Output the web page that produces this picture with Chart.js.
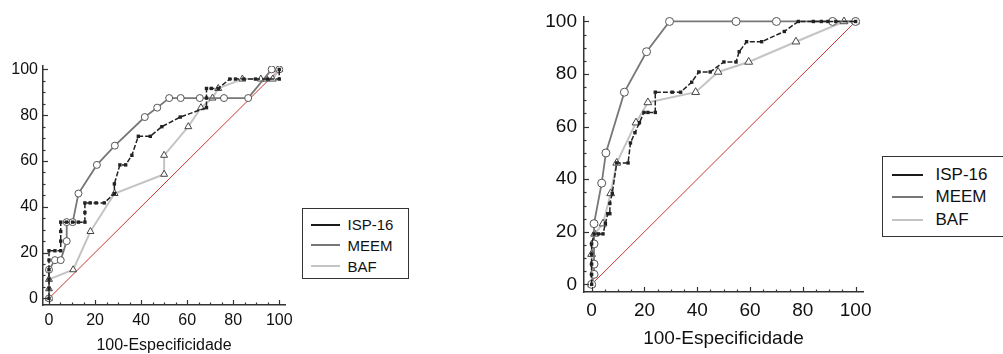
<!DOCTYPE html>
<html>
<head>
<meta charset="utf-8">
<script src="https://cdn.jsdelivr.net/npm/chart.js@4.4.1/dist/chart.umd.min.js"></script>
<style>
  body { margin: 0; background: #fff; width: 1003px; height: 354px; overflow: hidden; position: relative; font-family: "Liberation Sans", Arial, sans-serif; }
  canvas { position: absolute; top: 0; }
  .legend { position: absolute; border: 1.5px solid #333; background: #fff; box-sizing: border-box; color: #111; }
  .row { position: absolute; left: 0; display: flex; align-items: center; white-space: nowrap; }
  .swatch { display: inline-block; height: 2px; }
</style>
</head>
<body>
<canvas id="leftChart" width="300" height="354" style="left:0px"></canvas>
<canvas id="rightChart" width="360" height="354" style="left:520px"></canvas>

<div class="legend" id="leftLegend" style="left:302px; top:208px; width:107px; height:71px; font-size:15px;"></div>
<div class="legend" id="rightLegend" style="left:882px; top:156px; width:125px; height:81px; font-size:17px;"></div>

<script>
// ---- data ----
const seriesNames = ['ISP-16', 'MEEM', 'BAF'];
const tickValues = [0, 20, 40, 60, 80, 100];
const axisTitle = '100-Especificidade';
const diagX = [0, 100];
const diagY = [0, 100];

// left plot
const leftIspX = [0, 0, 0, 0, 0, 0, 2.6, 5.1, 5.1, 5.1, 5.1, 7.7, 10.3, 12.8, 15.6, 15.6, 15.6, 17.9, 20.5, 24.0, 28.4, 28.4, 30.8, 33.3, 36.0, 38.8, 44.0, 49.0, 57.0, 68.4, 68.4, 68.4, 70.5, 73.5, 78.5, 81.0, 84.6, 89.7, 94.9, 100, 100];
const leftIspY = [0, 4.2, 8.3, 12.5, 16.7, 20.8, 20.8, 20.8, 25.0, 29.2, 33.3, 33.3, 33.3, 33.3, 33.3, 37.5, 41.7, 41.7, 41.7, 41.7, 45.8, 50.0, 58.3, 58.3, 62.5, 70.8, 70.8, 75.0, 79.2, 83.3, 87.5, 91.7, 91.7, 91.7, 95.8, 95.8, 95.8, 95.8, 95.8, 95.8, 100];
const leftMeemX = [0, 0, 2.6, 5.1, 7.7, 7.7, 10.3, 12.8, 20.8, 28.6, 41.6, 47.0, 52.2, 57.2, 65.5, 76.0, 86.5, 96.7, 100];
const leftMeemY = [0, 12.5, 16.7, 16.7, 25.0, 33.3, 33.3, 45.8, 58.3, 66.7, 79.2, 83.3, 87.5, 87.5, 87.5, 87.5, 87.5, 100, 100];
const leftBafX = [0, 0, 0, 10.5, 18.0, 28.5, 50.0, 50.0, 60.5, 66.0, 71.0, 73.5, 84.0, 92.0, 94.5, 97.2, 100];
const leftBafY = [0, 4.2, 8.3, 12.5, 29.2, 45.8, 54.2, 62.5, 75.0, 83.3, 87.5, 91.7, 95.8, 95.8, 95.8, 95.8, 100];

// right plot
const rightIspX = [0, 0, 0, 0, 0, 0.9, 2.6, 4.3, 5.2, 6.1, 6.9, 6.9, 7.8, 9.5, 13.8, 14.7, 16.4, 18.1, 19.8, 21.3, 24.1, 24.1, 30.5, 33.7, 37.9, 40.6, 44.9, 50.1, 54.7, 55.9, 58.7, 64.4, 73.0, 78.3, 84.0, 87.0, 89.5, 92.5, 100];
const rightIspY = [0, 3.8, 7.7, 11.5, 15.4, 19.2, 19.2, 19.2, 23.1, 26.9, 26.9, 30.8, 34.6, 46.2, 46.2, 53.8, 57.7, 61.5, 65.4, 65.4, 65.4, 73.1, 73.1, 73.1, 76.9, 80.8, 80.8, 84.6, 84.6, 88.5, 92.3, 92.3, 96.2, 100, 100, 100, 100, 100, 100];
const rightMeemX = [0, 0.9, 0.9, 0.9, 0.9, 3.8, 5.4, 12.4, 20.8, 29.5, 54.7, 70.0, 91.3, 100];
const rightMeemY = [0, 3.8, 7.7, 15.4, 23.1, 38.5, 50.0, 73.1, 88.5, 100, 100, 100, 100, 100];
const rightBafX = [0, 0, 1.1, 4.3, 7.2, 9.5, 16.8, 21.3, 39.4, 47.9, 59.5, 77.4, 95.6, 100];
const rightBafY = [0, 11.5, 19.2, 23.1, 34.6, 46.2, 61.5, 69.2, 73.1, 80.8, 84.6, 92.3, 100, 100];

const lineColors = ['#1a1a1a', '#777777', '#c4c4c4'];
const fontFamily = "'Liberation Sans', Arial, sans-serif";

function pts(xs, ys) {
  return xs.map((x, i) => ({ x: x, y: ys[i] }));
}

// inward tick marks, major every 20, minor every 5
const tickMarks = {
  id: 'tickMarks',
  afterDraw(chart) {
    const ctx = chart.ctx;
    const xs = chart.scales.x, ys = chart.scales.y;
    const area = chart.chartArea;
    ctx.save();
    ctx.strokeStyle = '#333';
    ctx.lineWidth = 1.2;
    for (let v = 0; v <= 100; v += 5) {
      const len = v % 20 === 0 ? 5 : 2.5;
      const px = Math.round(xs.getPixelForValue(v)) + 0.5;
      ctx.beginPath();
      ctx.moveTo(px, area.bottom);
      ctx.lineTo(px, area.bottom - len);
      ctx.stroke();
      const py = Math.round(ys.getPixelForValue(v)) + 0.5;
      ctx.beginPath();
      ctx.moveTo(area.left, py);
      ctx.lineTo(area.left + len, py);
      ctx.stroke();
    }
    ctx.restore();
  }
};

function makeChart(id, d, s) {
  const datasets = [
    {
      label: 'diag', data: pts(diagX, diagY), showLine: true,
      borderColor: '#cc3333', borderWidth: 1, pointRadius: 0, order: 10
    },
    {
      label: seriesNames[2], data: pts(d.bafX, d.bafY), showLine: true,
      borderColor: lineColors[2], borderWidth: 2, order: 3,
      pointStyle: 'triangle', pointRadius: s.tri, pointBackgroundColor: '#fff',
      pointBorderColor: '#444', pointBorderWidth: 1
    },
    {
      label: seriesNames[1], data: pts(d.meemX, d.meemY), showLine: true,
      borderColor: lineColors[1], borderWidth: 1.8, order: 2,
      pointStyle: 'circle', pointRadius: s.circ, pointBackgroundColor: '#fff',
      pointBorderColor: '#555', pointBorderWidth: 1
    },
    {
      label: seriesNames[0], data: pts(d.ispX, d.ispY), showLine: true,
      borderColor: '#222', borderWidth: 1.5, borderDash: [5, 2], order: 1,
      pointStyle: 'rect', pointRadius: 2.4, pointBackgroundColor: '#222',
      pointBorderColor: '#222', pointBorderWidth: 0
    }
  ];

  return new Chart(document.getElementById(id), {
    type: 'scatter',
    data: { datasets: datasets },
    plugins: [tickMarks],
    options: {
      responsive: false,
      animation: false,
      layout: { padding: { top: s.top, right: s.right, left: 0, bottom: 0 } },
      plugins: { legend: { display: false }, tooltip: { enabled: false } },
      scales: {
        x: {
          type: 'linear', min: s.xMin, max: s.xMax,
          grid: { display: false, drawTicks: false },
          border: { display: true, color: '#333', width: 1.5 },
          afterBuildTicks: sc => { sc.ticks = tickValues.map(v => ({ value: v })); },
          afterFit: sc => { sc.height = s.xH; sc.paddingLeft = 0; sc.paddingRight = 0; },
          ticks: { color: '#111', padding: s.xPad, maxRotation: 0, autoSkip: false,
                   font: { family: fontFamily, size: s.font } },
          title: { display: true, text: axisTitle, color: '#111',
                   padding: { top: 0, bottom: s.titlePad },
                   font: { family: fontFamily, size: s.font, lineHeight: 1 } }
        },
        y: {
          type: 'linear', min: s.yMin, max: s.yMax,
          grid: { display: false, drawTicks: false },
          border: { display: true, color: '#333', width: 1.5 },
          afterBuildTicks: sc => { sc.ticks = tickValues.map(v => ({ value: v })); },
          afterFit: sc => { sc.width = s.yW; sc.paddingTop = 0; sc.paddingBottom = 0; },
          ticks: { color: '#111', padding: s.yPad, autoSkip: false,
                   font: { family: fontFamily, size: s.font } }
        }
      }
    }
  });
}

makeChart('leftChart',
  { ispX: leftIspX, ispY: leftIspY, meemX: leftMeemX, meemY: leftMeemY, bafX: leftBafX, bafY: leftBafY },
  { top: 66, right: 15, xH: 49, yW: 43, xMin: -2.6, xMax: 102.5, yMin: -2.9, yMax: 101.5,
    font: 16, xPad: 6, yPad: 5, titlePad: 0, tri: 4, circ: 3.5 });

makeChart('rightChart',
  { ispX: rightIspX, ispY: rightIspY, meemX: rightMeemX, meemY: rightMeemY, bafX: rightBafX, bafY: rightBafY },
  { top: 17, right: 17, xH: 62, yW: 64, xMin: -2.9, xMax: 102.8, yMin: -2.9, yMax: 101.7,
    font: 19, xPad: 7, yPad: 7, titlePad: 6, tri: 4.5, circ: 4 });

// HTML legends
function buildLegend(id, rows, lineX, lineW, textX) {
  const box = document.getElementById(id);
  seriesNames.forEach((name, i) => {
    const row = document.createElement('div');
    row.className = 'row';
    row.style.top = (rows[i] - 10) + 'px';
    row.style.height = '20px';
    row.style.left = lineX + 'px';
    const sw = document.createElement('span');
    sw.className = 'swatch';
    sw.style.width = lineW + 'px';
    sw.style.background = lineColors[i];
    const tx = document.createElement('span');
    tx.textContent = name;
    tx.style.marginLeft = (textX - lineX - lineW) + 'px';
    row.appendChild(sw);
    row.appendChild(tx);
    box.appendChild(row);
  });
}
buildLegend('leftLegend', [15.5, 36, 57], 7.5, 29, 44.5);
buildLegend('rightLegend', [17.5, 39.5, 62.5], 8.5, 31, 52.5);
</script>
</body>
</html>
